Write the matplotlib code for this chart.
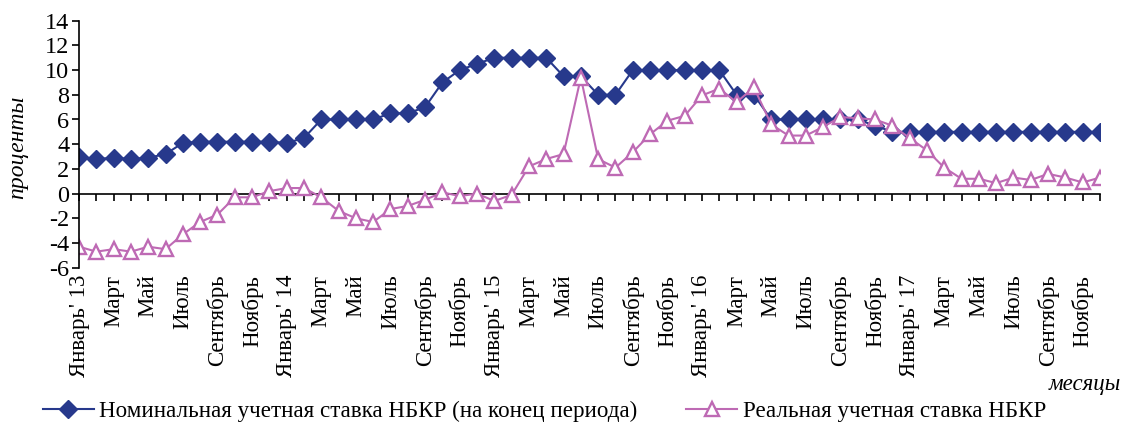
import matplotlib
matplotlib.use('Agg')
import matplotlib.pyplot as plt
import numpy as np

plt.rcParams['font.family'] = ['Liberation Serif', 'DejaVu Serif']
plt.rcParams['axes.unicode_minus'] = False

# учетная ставка НБКР, январь 2013 - декабрь 2017
nominal = [3.0, 2.8, 2.9, 2.8, 2.9, 3.2, 4.1, 4.2, 4.2, 4.2, 4.2, 4.2,
           4.1, 4.5, 6.0, 6.0, 6.0, 6.0, 6.5, 6.5, 7.0, 9.0, 10.0, 10.5,
           11.0, 11.0, 11.0, 11.0, 9.5, 9.5, 8.0, 8.0, 10.0, 10.0, 10.0, 10.0,
           10.0, 10.0, 8.0, 8.0, 6.0, 6.0, 6.0, 6.0, 6.0, 6.0, 5.5, 5.0,
           5.0, 5.0, 5.0, 5.0, 5.0, 5.0, 5.0, 5.0, 5.0, 5.0, 5.0, 5.0]
real = [-4.3, -4.7, -4.5, -4.7, -4.3, -4.5, -3.3, -2.3, -1.7, -0.3, -0.3, 0.2,
        0.45, 0.45, -0.3, -1.4, -2.0, -2.3, -1.25, -1.0, -0.5, 0.1, -0.2, 0.0,
        -0.6, -0.1, 2.2, 2.8, 3.2, 9.4, 2.8, 2.1, 3.35, 4.8, 5.9, 6.3,
        7.95, 8.5, 7.4, 8.6, 5.6, 4.7, 4.7, 5.4, 6.2, 6.1, 6.0, 5.5,
        4.5, 3.5, 2.1, 1.2, 1.2, 0.85, 1.3, 1.1, 1.6, 1.3, 0.9, 1.3]

tick_labels = []
for yr in ['13', '14', '15', '16', '17']:
    tick_labels += ["Январь' " + yr, 'Март', 'Май', 'Июль', 'Сентябрь', 'Ноябрь']

names = ['Номинальная учетная ставка НБКР (на конец периода)',
         'Реальная учетная ставка НБКР']

c_nom = '#27398C'
c_real = '#BE6AB4'

fig = plt.figure(figsize=(11.23, 4.23), dpi=100)
ax = fig.add_axes([79/1123, 1 - 267.7/423, (1100 - 79)/1123, (267.7 - 20.7)/423])

x = np.arange(len(nominal))
l1, = ax.plot(x, nominal, color=c_nom, lw=1.5, marker='D', ms=9,
              mfc=c_nom, mec=c_nom, label=names[0])
l2, = ax.plot(x, real, color=c_real, lw=1.5, marker='^', ms=10,
              mfc='white', mec=c_real, mew=1.7, label=names[1])

ax.set_xlim(0, len(nominal) - 1)
ax.set_ylim(-6, 14)
ax.set_yticks(np.arange(-6, 15, 2))
ax.tick_params(axis='y', labelsize=17.5, length=5, width=1.2, direction='out', pad=2)
ax.set_xticks(np.arange(0, len(nominal), 2))
ax.set_xticklabels(tick_labels, rotation=90, fontsize=16.5, va='top', ha='center')
ax.tick_params(axis='x', length=0, pad=5)

for s in ['top', 'right', 'bottom']:
    ax.spines[s].set_visible(False)
ax.spines['left'].set_linewidth(1.2)

# ось X проходит через ноль
sec = ax.secondary_xaxis(0.3)
sec.set_xticks(x)
sec.tick_params(length=5, width=1.2, direction='out', labelbottom=False, labeltop=False)
sec.spines['bottom'].set_linewidth(1.2)

fig.text(18/1123, 1 - 147/423, 'проценты', rotation=90, style='italic',
         fontsize=17, ha='center', va='center')
fig.text(1121/1123, 1 - 384/423, 'месяцы', style='italic',
         fontsize=16.5, ha='right', va='center')

fig.legend(handles=[l1, l2], loc='center left', bbox_to_anchor=(43/1123, 1 - 411.7/423),
           ncol=2, frameon=False, fontsize=16.6, handlelength=2.2, handletextpad=0.25,
           columnspacing=2.1, borderpad=0, borderaxespad=0)

plt.savefig('out.png', dpi=100)
